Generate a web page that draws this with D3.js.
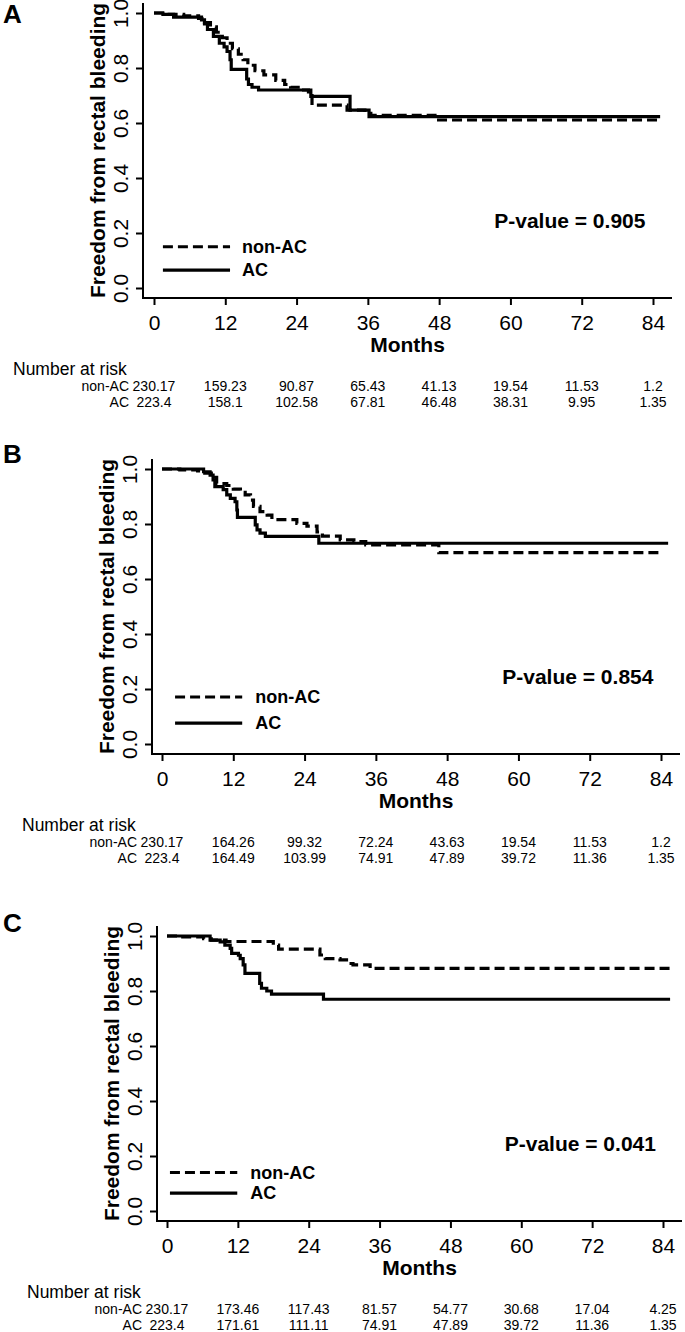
<!DOCTYPE html>
<html><head><meta charset="utf-8">
<script src="https://cdn.jsdelivr.net/npm/d3@7"></script>
<style>
body{margin:0;background:#fff}
svg{display:block;background:#fff}
text{font-family:"Liberation Sans",Arial,Helvetica,sans-serif;fill:#000}
</style>
</head><body>
<svg id="chart" width="685" height="1332"></svg>
<script>
// ---------- data ----------
const months = [0, 12, 24, 36, 48, 60, 72, 84];
const yTicks = [0, 0.2, 0.4, 0.6, 0.8, 1.0];
const panelLabels = ["A", "B", "C"];
const pValues = ["0.905", "0.854", "0.041"];
const groupNames = ["non-AC", "AC"];

// Kaplan-Meier steps: [month, survival after step]
const A_nonAC = [[0,1],[2,0.995],[5,0.99],[7.5,0.98],[8.5,0.965],[9.5,0.95],[10.5,0.93],[11.5,0.91],[12.3,0.89],[13.2,0.87],[14.2,0.85],[15,0.83],[15.8,0.81],[17,0.79],[18.5,0.775],[20.5,0.755],[22,0.74],[23,0.73],[24.6,0.72],[26,0.70],[26.6,0.665],[32.5,0.647],[35.5,0.635],[36.5,0.628],[47.3,0.611]];
const A_AC = [[0,1],[1.5,0.995],[3.3,0.985],[8,0.975],[8.5,0.96],[9,0.94],[10,0.915],[11,0.89],[11.8,0.877],[12.3,0.86],[12.8,0.83],[13.0,0.795],[15.6,0.76],[15.9,0.74],[16.5,0.73],[17.6,0.72],[26.4,0.697],[33,0.647],[36.2,0.623]];
const B_nonAC = [[0,1],[3,0.997],[6,0.993],[7.2,0.985],[8.3,0.97],[9.2,0.947],[10.9,0.94],[12,0.927],[13.2,0.915],[14,0.906],[14.9,0.887],[15.4,0.864],[16.5,0.845],[17.7,0.832],[18.5,0.816],[22.7,0.802],[24.4,0.792],[26.1,0.771],[27,0.756],[30,0.742],[32.3,0.736],[34.3,0.724],[46.6,0.696]];
const B_AC = [[0,1],[7,0.99],[8.1,0.978],[8.6,0.96],[8.9,0.936],[10.3,0.925],[10.9,0.906],[11.5,0.893],[12.3,0.881],[12.6,0.851],[12.7,0.824],[15.7,0.797],[16,0.779],[16.5,0.767],[17.4,0.755],[26.4,0.73]];
const C_nonAC = [[0,1],[2,0.997],[6.2,0.99],[7.5,0.985],[10,0.98],[18,0.967],[18.9,0.952],[25.9,0.931],[26.8,0.918],[29.3,0.913],[30.4,0.9],[31.5,0.895],[34.4,0.882]];
const C_AC = [[0,1],[7.3,0.985],[9,0.979],[9.8,0.967],[10.7,0.955],[10.95,0.937],[12.1,0.93],[12.4,0.918],[12.9,0.895],[13.2,0.864],[15.7,0.828],[16,0.81],[16.9,0.8],[17.7,0.789],[26.5,0.77]];
// last follow-up month per curve [nonAC, AC]
const A_end = [85.5, 85.2];
const B_end = [84.3, 85.2];
const C_end = [85.8, 85.2];

// Number at risk
const A_riskNonAC = [230.17, 159.23, 90.87, 65.43, 41.13, 19.54, 11.53, 1.2];
const A_riskAC    = [223.4, 158.1, 102.58, 67.81, 46.48, 38.31, 9.95, 1.35];
const B_riskNonAC = [230.17, 164.26, 99.32, 72.24, 43.63, 19.54, 11.53, 1.2];
const B_riskAC    = [223.4, 164.49, 103.99, 74.91, 47.89, 39.72, 11.36, 1.35];
const C_riskNonAC = [230.17, 173.46, 117.43, 81.57, 54.77, 30.68, 17.04, 4.25];
const C_riskAC    = [223.4, 171.61, 111.11, 74.91, 47.89, 39.72, 11.36, 1.35];

// ---------- layout (pixels) ----------
const layouts = [
  {axisX:143, x0:154, x84:653, y1:13,  y0:288,  axisEnd:672, letterY:23,
   leg:{m1:1.5, m2:12.8, mt:14.8, vDash:0.15, vSolid:0.065}},
  {axisX:152, x0:162, x84:661, y1:469, y0:744,  axisEnd:680, letterY:463,
   leg:{m1:2.2, m2:13.5, mt:15.7, vDash:0.171, vSolid:0.076}},
  {axisX:157, x0:167, x84:663, y1:936, y0:1211, axisEnd:682, letterY:932,
   leg:{m1:0.5, m2:11.9, mt:14.1, vDash:0.14, vSolid:0.065}}
];

const curves = [[A_nonAC, A_AC], [B_nonAC, B_AC], [C_nonAC, C_AC]];
const ends = [A_end, B_end, C_end];
const risks = [[A_riskNonAC, A_riskAC], [B_riskNonAC, B_riskAC], [C_riskNonAC, C_riskAC]];

const svg = d3.select("#chart");
svg.append("rect").attr("width",685).attr("height",1332).attr("fill","#fff");

const CURVE_W = 3.2;
const DASH = "10,5";

function drawPanel(i) {
  const L = layouts[i];
  const x = d3.scaleLinear().domain([0, 84]).range([L.x0, L.x84]);
  const y = d3.scaleLinear().domain([0, 1]).range([L.y0, L.y1]);
  const g = svg.append("g");

  // L-shaped frame
  g.append("path")
    .attr("d", `M${L.axisX},${L.y1 - 10}V${L.y0 + 10}H${L.axisEnd}`)
    .attr("fill", "none").attr("stroke", "#000").attr("stroke-width", 2);

  // y axis
  const ya = g.append("g").attr("transform", `translate(${L.axisX},0)`)
    .call(d3.axisLeft(y).tickValues(yTicks).tickFormat(d3.format(".1f")).tickSize(7).tickSizeOuter(0));
  ya.select(".domain").remove();
  ya.selectAll(".tick line").attr("stroke", "#000").attr("stroke-width", 2);
  ya.selectAll(".tick text")
    .attr("x", null).attr("dy", null)
    .attr("text-anchor", "middle")
    .attr("transform", "translate(-15,0) rotate(-90)")
    .style("font-size", "21px").style("font-family", '"Liberation Sans",Arial,sans-serif').attr("fill", "#000");

  // x axis
  const xa = g.append("g").attr("transform", `translate(0,${L.y0 + 10})`)
    .call(d3.axisBottom(x).tickValues(months).tickFormat(d3.format("d")).tickSize(7).tickSizeOuter(0));
  xa.select(".domain").remove();
  xa.selectAll(".tick line").attr("stroke", "#000").attr("stroke-width", 2);
  xa.selectAll(".tick text")
    .attr("y", 32).attr("dy", null)
    .style("font-size", "21px").style("font-family", '"Liberation Sans",Arial,sans-serif').attr("fill", "#000");

  // axis titles
  g.append("text")
    .attr("x", (L.axisX + L.axisEnd) / 2).attr("y", L.y0 + 64)
    .attr("text-anchor", "middle").style("font-size", "21px").style("font-weight", "bold")
    .text("Months");
  g.append("text")
    .attr("transform", `translate(${L.axisX - 38},${(L.y0 + L.y1) / 2}) rotate(-90)`)
    .attr("text-anchor", "middle").style("font-size", "21px").style("font-weight", "bold")
    .text("Freedom from rectal bleeding");

  // curves
  const line = d3.line().x(d => x(d[0])).y(d => y(d[1])).curve(d3.curveStepAfter);
  curves[i].forEach((c, k) => {
    const pts = c.concat([[ends[i][k], c[c.length - 1][1]]]);
    g.append("path").attr("d", line(pts))
      .attr("fill", "none").attr("stroke", "#000").attr("stroke-width", CURVE_W)
      .attr("stroke-dasharray", k === 0 ? DASH : null)
      .attr("stroke-linejoin", "miter");
  });

  // legend
  const lg = L.leg;
  [[lg.vDash, DASH, groupNames[0]], [lg.vSolid, null, groupNames[1]]].forEach(([v, da, name]) => {
    g.append("line").attr("x1", x(lg.m1)).attr("x2", x(lg.m2)).attr("y1", y(v)).attr("y2", y(v))
      .attr("stroke", "#000").attr("stroke-width", CURVE_W).attr("stroke-dasharray", da);
    g.append("text").attr("x", x(lg.mt)).attr("y", y(v)).attr("dy", "0.35em")
      .style("font-size", "18px").style("font-weight", "bold").text(name);
  });

  // p-value
  g.append("text").attr("x", x(70)).attr("y", y(0.218))
    .attr("text-anchor", "middle").style("font-size", "21px").style("font-weight", "bold")
    .text("P-value = " + pValues[i]);

  // panel letter
  g.append("text").attr("x", 3).attr("y", L.letterY)
    .style("font-size", "26px").style("font-weight", "bold").text(panelLabels[i]);

  // number at risk table
  g.append("text").attr("x", L.axisX - 130).attr("y", L.y0 + 87)
    .style("font-size", "17.5px").text("Number at risk");
  risks[i].forEach((row, k) => {
    const yy = L.y0 + (k === 0 ? 103 : 119);
    g.append("text").attr("x", L.x0 - 25).attr("y", yy).attr("text-anchor", "end")
      .style("font-size", "14px").text(groupNames[k]);
    g.selectAll(null).data(row).enter().append("text")
      .attr("x", (d, j) => x(months[j])).attr("y", yy)
      .attr("text-anchor", "middle").style("font-size", "14px")
      .text(d => d);
  });
}

[0, 1, 2].forEach(drawPanel);
</script>
</body></html>
